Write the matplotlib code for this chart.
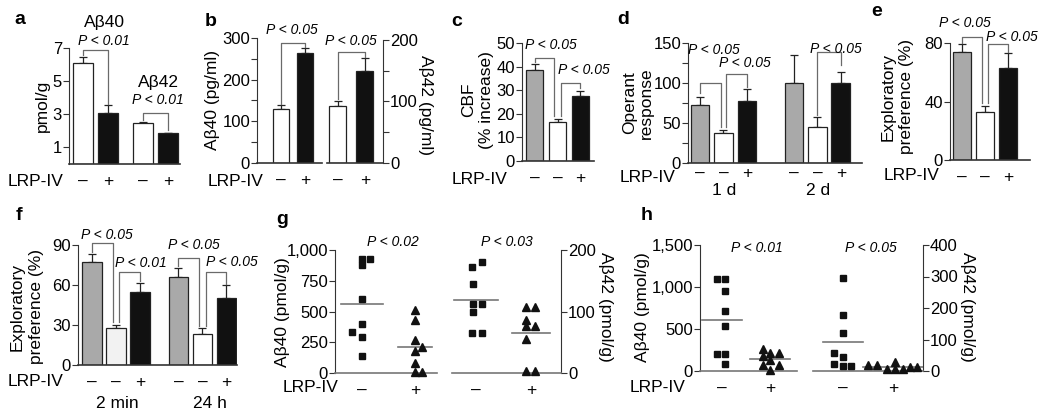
import numpy as np
import matplotlib.pyplot as plt

plt.rcParams['font.family'] = ['Liberation Sans', 'DejaVu Sans']

W, H = 1050, 420

# ---- data ----
a_mean = [6.1, 3.1, 2.45, 1.85]
a_err = [0.35, 0.45, 0.1, 0.0]
a_lrp = ['–', '+', '–', '+']

b40_mean = [130, 265]
b40_err = [8, 10]
b42_mean = [92, 150]
b42_err = [9, 20]
b_lrp = ['–', '+']

c_mean = [38.5, 16.5, 27.5]
c_err = [2.5, 1.2, 2.3]
c_lrp = ['–', '–', '+']

d_mean = [73, 37, 78, 100, 45, 100]
d_err = [10, 4, 14, 35, 12, 14]
d_lrp = ['–', '–', '+', '–', '–', '+']
d_days = ['1 d', '2 d']

e_mean = [74, 33, 63]
e_err = [5, 4, 10]
e_lrp = ['–', '–', '+']

f_mean = [77, 28, 55, 66, 23, 50]
f_err = [6, 2, 6.5, 7, 5, 10]
f_lrp = ['–', '–', '+', '–', '–', '+']
f_times = ['2 min', '24 h']

g40_neg = [930, 930, 880, 600, 400, 330, 290, 140]
g40_pos = [510, 430, 270, 210, 180, 80, 5, 5]
g42_neg = [180, 172, 145, 113, 113, 100, 65, 65]
g42_pos = [108, 108, 86, 77, 77, 55, 4, 4]
h40_neg = [1095, 1095, 952, 714, 536, 202, 202, 83]
h40_pos = [258, 218, 218, 175, 130, 70, 70, 12]
h42_neg = [294, 178, 122, 56, 45, 22, 16, 16]
h42_pos = [18, 18, 5, 30, 5, 5, 12, 14]

GRAY = '#a9a9a9'
LINE = '#6a6a6a'

fig = plt.figure(figsize=(W / 100, H / 100), dpi=100)


def box(x0, ytop, x1, ybot):
    return fig.add_axes([x0 / W, 1 - ybot / H, (x1 - x0) / W, (ybot - ytop) / H])


def ftext(x, y, s, **kw):
    kw.setdefault('ha', 'center')
    kw.setdefault('va', 'center')
    kw.setdefault('fontsize', 12.5)
    fig.text(x / W, 1 - y / H, s, **kw)


def ptext(x, y, s):
    ftext(x, y, s, fontsize=10, fontstyle='italic')


def style(ax, ylim, ticks, side='left', labels=None, minor=None, base='#333333', xpad=7):
    for s in ax.spines.values():
        s.set_visible(False)
    ax.spines[side].set_visible(True)
    ax.spines[side].set_color('#333333')
    ax.spines['bottom'].set_visible(True)
    ax.spines['bottom'].set_color(base)
    ax.spines['bottom'].set_linewidth(1.2)
    ax.set_ylim(*ylim)
    ax.set_yticks(ticks)
    if labels is not None:
        ax.set_yticklabels(labels)
    if minor is not None:
        ax.set_yticks(minor, minor=True)
    ax.tick_params(axis='y', which='both', direction='out', length=4, width=0.8,
                   color='#333333', labelsize=12, pad=1)
    ax.tick_params(axis='x', length=0, labelsize=12.5, pad=xpad)
    if side == 'right':
        ax.yaxis.tick_right()
    ax.patch.set_alpha(0)


def bars(ax, pos, mean, err, colors, width=0.78):
    ax.bar(pos, mean, width=width, color=colors, edgecolor='#222222', linewidth=0.9, zorder=2)
    ax.errorbar(pos, mean, yerr=[np.zeros(len(err)), err], fmt='none', ecolor='#222222',
                elinewidth=0.9, capsize=3, capthick=0.9, zorder=1)


def bracket(ax, x1, x2, y1, y2, top):
    ax.plot([x1, x1, x2, x2], [y1, top, top, y2], color=LINE, lw=0.9, clip_on=False, zorder=3)


def dots(ax, x, vals, offs, marker, half=0.4):
    ax.plot(x + np.array(offs), vals, ls='none', marker=marker, color='#111111',
            markersize=5.0 if marker == 's' else 5.6, clip_on=False, zorder=3)
    m = np.mean(vals)
    ax.plot([x - half, x + half], [m, m], color='#777777', lw=1.2, zorder=2)


# ---- a ----
ax = box(69, 48, 180, 164)
pos = [0, 1, 2.4, 3.4]
bars(ax, pos, a_mean, a_err, ['white', '#111111', 'white', '#111111'])
style(ax, (0, 7), [1, 3, 5, 7])
ax.set_xlim(-0.56, 3.88)
ax.set_xticks(pos, a_lrp)
ax.set_ylabel('pmol/g', fontsize=12.5, labelpad=2)
bracket(ax, 0, 1, a_mean[0] + a_err[0] + 0.12, a_mean[1] + a_err[1] + 0.1, 6.85)
bracket(ax, 2.4, 3.4, a_mean[2] + a_err[2] + 0.1, a_mean[3] + 0.2, 3.05)
ftext(104, 22, 'Aβ40')
ptext(104, 41, 'P < 0.01')
ftext(158, 82, 'Aβ42')
ptext(158, 100, 'P < 0.01')
ftext(36, 181, 'LRP-IV')

# ---- b ----
ax = box(257, 38, 322, 163)
bars(ax, [0, 1], b40_mean, b40_err, ['white', '#111111'], width=0.67)
style(ax, (0, 300), [0, 100, 200, 300], minor=[50, 150, 250])
ax.set_xlim(-1.0, 1.7)
ax.set_xticks([0, 1], b_lrp)
bracket(ax, 0, 1, b40_mean[0] + b40_err[0] + 4, b40_mean[1] + b40_err[1] + 3, 288)
ftext(213, 100, 'Aβ40 (pg/ml)', rotation=90)
ptext(292, 30, 'P < 0.05')

ax = box(327, 40, 383, 163)
bars(ax, [0, 1], b42_mean, b42_err, ['white', '#111111'], width=0.63)
style(ax, (0, 200), [0, 100, 200], side='right', minor=[50, 150])
ax.set_xlim(-0.4, 1.67)
ax.set_xticks([0, 1], b_lrp)
bracket(ax, 0, 1, b42_mean[0] + b42_err[0] + 3, b42_mean[1] + b42_err[1] + 2, 180)
ftext(426, 105, 'Aβ42 (pg/ml)', rotation=270)
ptext(351, 41, 'P < 0.05')
ftext(236, 181, 'LRP-IV')

# ---- c ----
ax = box(522, 43, 594, 161)
pos = [0, 1, 2]
bars(ax, pos, c_mean, c_err, [GRAY, 'white', '#111111'], width=0.75)
style(ax, (0, 50), [0, 10, 20, 30, 40, 50])
ax.set_xlim(-0.57, 2.6)
ax.set_xticks(pos, c_lrp)
bracket(ax, 0, 0.85, c_mean[0] + c_err[0] + 1, c_mean[1] + c_err[1] + 1.5, 43.6)
bracket(ax, 1.15, 2, c_mean[1] + c_err[1] + 1.5, c_mean[2] + c_err[2] + 1, 33)
ptext(551, 45, 'P < 0.05')
ptext(584, 70, 'P < 0.05')
ftext(469, 100, 'CBF', rotation=90)
ftext(486, 100, '(% increase)', rotation=90)
ftext(480, 179, 'LRP-IV')

# ---- d ----
ax = box(688, 43, 862, 163)
pos = [0, 1, 2, 4, 5, 6]
bars(ax, pos, d_mean, d_err, [GRAY, 'white', '#111111'] * 2, width=0.8)
style(ax, (0, 150), [0, 50, 100, 150], minor=[25, 75, 125], xpad=2)
ax.set_xlim(-0.51, 6.9)
ax.set_xticks(pos, d_lrp)
bracket(ax, 0, 0.88, d_mean[0] + d_err[0] + 4, d_mean[1] + d_err[1] + 4, 100)
bracket(ax, 1.12, 2, d_mean[1] + d_err[1] + 4, d_mean[2] + d_err[2] + 3, 111)
bracket(ax, 5, 6, d_mean[4] + d_err[4] + 3, d_mean[5] + d_err[5] + 8, 139)
ptext(714, 50, 'P < 0.05')
ptext(745, 63, 'P < 0.05')
ptext(836, 49, 'P < 0.05')
ftext(630, 103, 'Operant', rotation=90)
ftext(646, 103, 'response', rotation=90)
ftext(724, 191, d_days[0])
ftext(818, 191, d_days[1])
ftext(648, 177, 'LRP-IV')

# ---- e ----
ax = box(950, 43, 1030, 160)
pos = [0, 1, 2]
bars(ax, pos, e_mean, e_err, [GRAY, 'white', '#111111'], width=0.8)
style(ax, (0, 80), [0, 40, 80])
ax.set_xlim(-0.52, 2.96)
ax.set_xticks(pos, e_lrp)
bracket(ax, 0, 0.87, e_mean[0] + e_err[0] + 1, e_mean[1] + e_err[1] + 2, 84)
bracket(ax, 1.13, 2, e_mean[1] + e_err[1] + 2, e_mean[2] + e_err[2] + 1, 79)
ptext(965, 23, 'P < 0.05')
ptext(1012, 37, 'P < 0.05')
ftext(888, 97, 'Exploratory', rotation=90)
ftext(907, 97, 'preference (%)', rotation=90)
ftext(912, 175, 'LRP-IV')

# ---- f ----
ax = box(78, 245, 237, 365)
pos = [0, 1, 2, 3.6, 4.6, 5.6]
bars(ax, pos, f_mean, f_err, [GRAY, '#f2f2f2', '#111111', GRAY, 'white', '#111111'], width=0.8)
style(ax, (0, 90), [0, 30, 60, 90])
ax.set_xlim(-0.58, 6.04)
ax.set_xticks(pos, f_lrp)
bracket(ax, 0, 0.87, f_mean[0] + f_err[0] + 2, f_mean[1] + f_err[1] + 2, 91.5)
bracket(ax, 1.13, 2, f_mean[1] + f_err[1] + 2, f_mean[2] + f_err[2] + 1.5, 70)
bracket(ax, 3.6, 4.47, f_mean[3] + f_err[3] + 1, f_mean[4] + f_err[4] + 1, 80)
bracket(ax, 4.73, 5.6, f_mean[4] + f_err[4] + 1, f_mean[5] + f_err[5] + 1, 70)
ptext(107, 235, 'P < 0.05')
ptext(141, 263, 'P < 0.01')
ptext(194, 245, 'P < 0.05')
ptext(232, 262, 'P < 0.05')
ftext(17, 307, 'Exploratory', rotation=90)
ftext(36, 307, 'preference (%)', rotation=90)
ftext(36, 382, 'LRP-IV')
ftext(117, 404, f_times[0])
ftext(210, 404, f_times[1])

# ---- g ----
ax = box(335, 250, 437, 373)
style(ax, (0, 1000), [0, 250, 500, 750, 1000],
      labels=['0', '250', '500', '750', '1,000'], base='#777777')
ax.set_xlim(-0.51, 1.42)
dots(ax, 0, g40_neg, [0, 0.15, 0, 0, 0, -0.18, 0, 0], 's')
dots(ax, 1, g40_pos, [0, 0, 0, 0.14, 0, 0, 0, 0.14], '^', half=0.32)
ax.set_xticks([0, 1], b_lrp)
ftext(283, 312, 'Aβ40 (pmol/g)', rotation=90)
ptext(393, 242, 'P < 0.02')

ax = box(452, 250, 561, 373)
style(ax, (0, 200), [0, 100, 200], side='right', base='#777777')
ax.set_xlim(-0.44, 1.55)
dots(ax, 0, g42_neg, [0.1, -0.08, -0.05, -0.05, 0.1, -0.05, -0.08, 0.1], 's')
dots(ax, 1, g42_pos, [-0.08, 0.08, -0.08, -0.08, 0.08, -0.08, -0.08, 0.08], '^', half=0.35)
ax.set_xticks([0, 1], b_lrp)
ftext(606, 307, 'Aβ42 (pmol/g)', rotation=270)
ptext(507, 242, 'P < 0.03')
ftext(311, 388, 'LRP-IV')

# ---- h ----
ax = box(700, 245, 797, 371)
style(ax, (0, 1500), [0, 500, 1000, 1500], labels=['0', '500', '1,000', '1,500'],
      base='#777777')
ax.set_xlim(-0.46, 1.56)
dots(ax, 0, h40_neg, [-0.1, 0.06, 0.06, 0.06, 0.06, -0.1, 0.06, 0.06], 's', half=0.42)
dots(ax, 1, h40_pos, [-0.15, 0.0, 0.18, -0.15, 0.0, -0.15, 0.18, 0.0], '^', half=0.42)
ax.set_xticks([0, 1], b_lrp)
ftext(642, 307, 'Aβ40 (pmol/g)', rotation=90)
ptext(757, 248, 'P < 0.01')

ax = box(813, 245, 923, 371)
style(ax, (0, 400), [0, 100, 200, 300, 400], side='right', base='#777777')
ax.set_xlim(-0.6, 1.6)
dots(ax, 0, h42_neg, [0, 0, 0, -0.18, 0, -0.18, 0, 0.16], 's')
dots(ax, 1, h42_pos, [-0.5, -0.32, -0.12, 0.04, 0.04, 0.2, 0.34, 0.48], '^', half=0.6)
ax.set_xticks([0, 1], b_lrp)
ftext(968, 307, 'Aβ42 (pmol/g)', rotation=270)
ptext(871, 248, 'P < 0.05')
ftext(658, 387, 'LRP-IV')

# panel letters
for s, x, y in [('a', 20, 20), ('b', 211, 21), ('c', 457, 21), ('d', 623, 19),
                ('e', 877, 12), ('f', 19, 216), ('g', 282, 219), ('h', 647, 216)]:
    ftext(x, y, s, fontsize=14, fontweight='bold')

fig.savefig('out.png', dpi=100)
